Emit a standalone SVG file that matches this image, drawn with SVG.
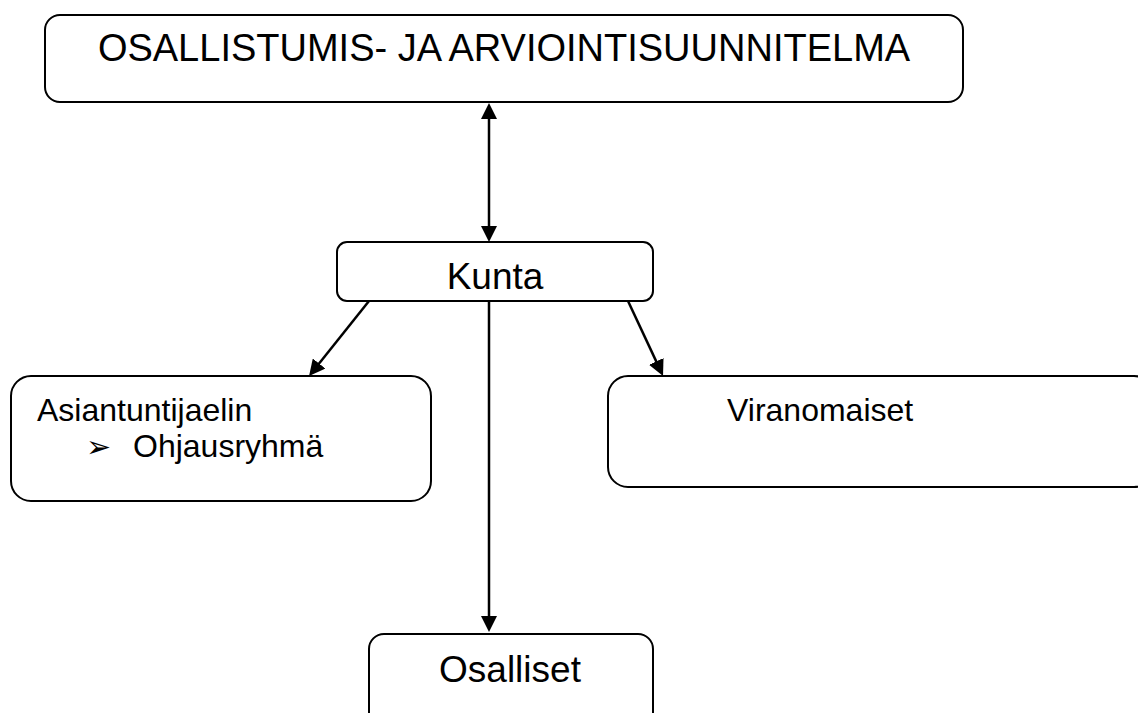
<svg xmlns="http://www.w3.org/2000/svg" width="1138" height="713" viewBox="0 0 1138 713">
  <style>
    .box { fill: #ffffff; stroke: #000000; stroke-width: 2; }
    .lbl { font-family: "Liberation Sans", Arial, sans-serif; fill: #000000; }
    .conn { stroke: #000000; stroke-width: 2.5; fill: none; }
  </style>
  <defs>
    <marker id="ah" markerUnits="userSpaceOnUse" markerWidth="16" markerHeight="16" refX="6" refY="8" orient="auto-start-reverse" viewBox="0 0 16 16">
      <path d="M0,0 L16,8 L0,16 z" fill="#000000"/>
    </marker>
  </defs>
  <rect width="1138" height="713" fill="#ffffff"/>

  <g id="connectors">
    <line class="conn" x1="489" y1="113" x2="489" y2="232" marker-start="url(#ah)" marker-end="url(#ah)"/>
    <line class="conn" x1="369" y1="301" x2="315.3" y2="368.2" marker-end="url(#ah)"/>
    <line class="conn" x1="628" y1="301" x2="658.8" y2="366.9" marker-end="url(#ah)"/>
    <line class="conn" x1="489" y1="301" x2="489" y2="622" marker-end="url(#ah)"/>
  </g>

  <g id="node-suunnitelma">
    <rect class="box" x="45" y="15" width="918" height="87" rx="15" ry="15"/>
    <text class="lbl" x="504" y="61" font-size="38" text-anchor="middle">OSALLISTUMIS- JA ARVIOINTISUUNNITELMA</text>
  </g>

  <g id="node-kunta">
    <rect class="box" x="337" y="242" width="316" height="59" rx="10" ry="10"/>
    <text class="lbl" x="495" y="289" font-size="37" text-anchor="middle">Kunta</text>
  </g>

  <g id="node-asiantuntijaelin">
    <rect class="box" x="11" y="376" width="420" height="125" rx="20" ry="20"/>
    <text class="lbl" x="37" y="421" font-size="32">Asiantuntijaelin</text>
    <text class="lbl" x="86" y="457" font-size="30" font-family="'DejaVu Sans', sans-serif">➢</text>
    <text class="lbl" x="133" y="457" font-size="32">Ohjausryhmä</text>
  </g>

  <g id="node-viranomaiset">
    <rect class="box" x="608" y="376" width="546" height="111" rx="20" ry="20"/>
    <text class="lbl" x="727" y="421" font-size="32">Viranomaiset</text>
  </g>

  <g id="node-osalliset">
    <rect class="box" x="369" y="634" width="284" height="100" rx="15" ry="15"/>
    <text class="lbl" x="510" y="682" font-size="37" text-anchor="middle">Osalliset</text>
  </g>
</svg>
